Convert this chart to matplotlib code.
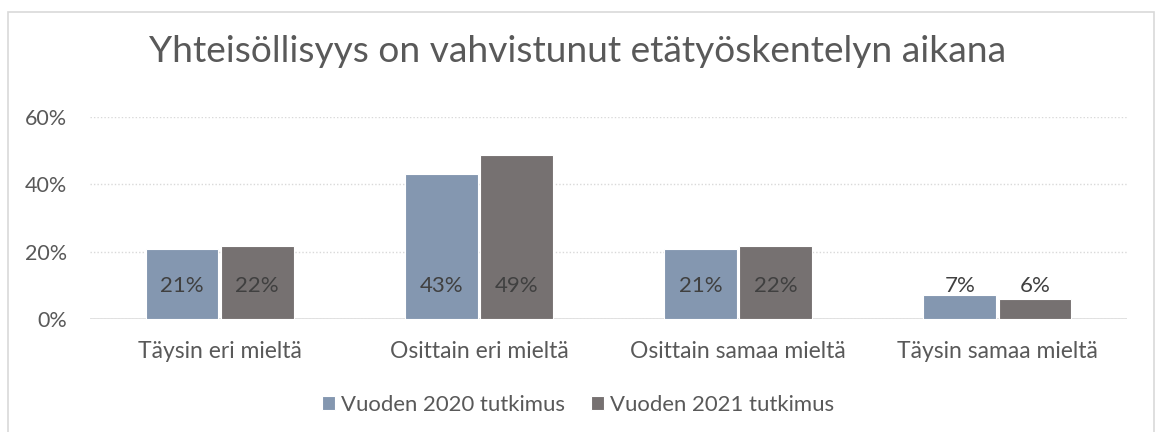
import numpy as np
import matplotlib.pyplot as plt
from matplotlib.patches import Rectangle
from matplotlib.ticker import PercentFormatter

plt.rcParams['font.family'] = ['Lato', 'DejaVu Sans']

categories = ['Täysin eri mieltä', 'Osittain eri mieltä', 'Osittain samaa mieltä', 'Täysin samaa mieltä']
series_names = ['Vuoden 2020 tutkimus', 'Vuoden 2021 tutkimus']
values_2020 = [0.209, 0.43, 0.209, 0.071]
values_2021 = [0.216, 0.487, 0.216, 0.058]
labels_2020 = ['21%', '43%', '21%', '7%']
labels_2021 = ['22%', '49%', '22%', '6%']

blue = '#8497B0'
gray = '#767171'
text_col = '#595959'
grid_col = '#D9D9D9'

W, H = 1156, 432
fig = plt.figure(figsize=(W / 100, H / 100), dpi=100)

# outer chart border
fig.patches.append(Rectangle((8 / W, -0.05), (1154 - 8) / W, 1.05 - 12 / H,
                             transform=fig.transFigure, fill=False,
                             edgecolor='#D9D9D9', linewidth=1.2))

ax = fig.add_axes([90 / W, 1 - 319 / H, (1127 - 90) / W, (319 - 117) / H])

x = np.arange(len(categories))
bw = 0.28
b1 = ax.bar(x - bw / 2 - 0.005, values_2020, bw, color=blue, edgecolor='white', linewidth=0.8,
            label=series_names[0], zorder=2)
b2 = ax.bar(x + bw / 2 + 0.005, values_2021, bw, color=gray, edgecolor='white', linewidth=0.8,
            label=series_names[1], zorder=2)

for bars, labs in ((b1, labels_2020), (b2, labels_2021)):
    for rect, lab in zip(bars, labs):
        ax.text(rect.get_x() + rect.get_width() / 2, 0.098, lab, ha='center', va='center',
                fontsize=16, color='#404040', zorder=3)

ax.set_xlim(-0.5, 3.5)
ax.set_ylim(0, 0.6)
ax.set_yticks([0, 0.2, 0.4, 0.6])
ax.yaxis.set_major_formatter(PercentFormatter(1.0, decimals=0))
ax.set_xticks(x)
ax.set_xticklabels(categories)
ax.tick_params(axis='both', length=0, colors=text_col)
ax.tick_params(axis='x', pad=16, labelsize=16.5)
ax.tick_params(axis='y', pad=16.5, labelsize=15.5)

ax.grid(axis='y', color=grid_col, linestyle=(0, (1, 1.5)), linewidth=1, zorder=0)
ax.axhline(0, color=grid_col, linewidth=1.8, zorder=1)
for s in ax.spines.values():
    s.set_visible(False)

fig.text(0.5, 1 - 52 / H, 'Yhteisöllisyys on vahvistunut etätyöskentelyn aikana',
         ha='center', va='center', fontsize=26.7, color=text_col)

fig.legend(handles=[b1, b2], labels=series_names, loc='center', bbox_to_anchor=(0.5, 1 - 405 / H),
           ncol=2, frameon=False, fontsize=15.9, labelcolor=text_col, handlelength=0.6,
           handleheight=0.6, handletextpad=0.25, columnspacing=1.2)

fig.savefig('out.png', dpi=100)
